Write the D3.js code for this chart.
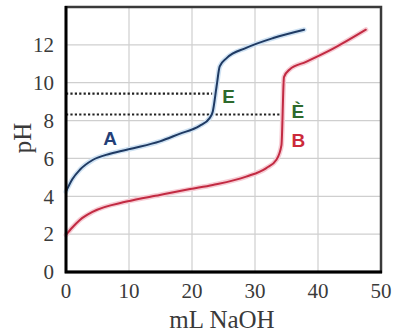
<!DOCTYPE html>
<html>
<head>
<meta charset="utf-8">
<script src="https://cdn.jsdelivr.net/npm/d3@7"></script>
<style>
  body { margin: 0; background: #fff; }
  svg { display: block; }
</style>
</head>
<body>
<div id="chart"></div>
<script>
// Titration data (mL NaOH, pH)
const volA = [0, 1, 2.2, 4.3, 7, 10.7, 14.9, 18, 21.2, 22.8, 23.3, 23.9, 24.4, 25.5, 28.6, 32.9, 37.8]
const phA = [4.25, 4.9, 5.4, 5.93, 6.25, 6.54, 6.9, 7.3, 7.72, 8.13, 8.48, 9.8, 10.86, 11.3, 11.84, 12.36, 12.8]

const volB = [0, 1, 2.2, 4.3, 9.6, 14.9, 19.7, 23.3, 28.6, 31.8, 33.4, 34.2, 34.6, 35.5, 38.1, 42.4, 47.6]
const phB = [1.96, 2.35, 2.75, 3.19, 3.72, 4.07, 4.38, 4.6, 5.04, 5.49, 5.93, 6.7, 10.3, 10.7, 11.1, 11.8, 12.8]

// dotted reference levels: [pH, mL where line stops]
const dottedPh = [9.42, 8.32]
const dottedEnd = [23.2, 34.3]

const xTicks = [0, 10, 20, 30, 40, 50]
const yTicks = [0, 2, 4, 6, 8, 10, 12]

const width = 393
const height = 334
const margin = { top: 7, right: 12, bottom: 62, left: 66 }

const svg = d3.select('#chart').append('svg')
  .attr('width', width)
  .attr('height', height)

const x = d3.scaleLinear().domain([0, 50]).range([margin.left, width - margin.right])
const y = d3.scaleLinear().domain([0, 14]).range([height - margin.bottom, margin.top])

// grid
const grid = svg.append('g').attr('stroke', '#cfcfcf').attr('stroke-width', 1.2)
grid.selectAll('line.gx')
  .data(xTicks.slice(1, -1))
  .join('line')
  .attr('x1', d => x(d)).attr('x2', d => x(d))
  .attr('y1', y(0)).attr('y2', y(14))
grid.selectAll('line.gy')
  .data(yTicks.slice(1))
  .join('line')
  .attr('x1', x(0)).attr('x2', x(50))
  .attr('y1', d => y(d)).attr('y2', d => y(d))

// dotted lines
svg.append('g').selectAll('line')
  .data(dottedPh)
  .join('line')
  .attr('x1', x(0))
  .attr('x2', (d, i) => x(dottedEnd[i]))
  .attr('y1', d => y(d)).attr('y2', d => y(d))
  .attr('stroke', '#222')
  .attr('stroke-width', 2.2)
  .attr('stroke-dasharray', '2.2,2.2')

// curves
const line = d3.line()
  .x(d => x(d[0]))
  .y(d => y(d[1]))
  .curve(d3.curveMonotoneX)

const curves = [
  { pts: volA.map((v, i) => [v, phA[i]]), color: '#1f3a63', halo: '#cfe2f3' },
  { pts: volB.map((v, i) => [v, phB[i]]), color: '#c22a42', halo: '#f6ccd4' }
]

curves.forEach(c => {
  svg.append('path')
    .attr('d', line(c.pts))
    .attr('fill', 'none')
    .attr('stroke', c.halo)
    .attr('stroke-width', 5)
    .attr('stroke-linecap', 'round')
  svg.append('path')
    .attr('d', line(c.pts))
    .attr('fill', 'none')
    .attr('stroke', c.color)
    .attr('stroke-width', 2)
    .attr('stroke-linecap', 'round')
})

// frame: top/right gray, left/bottom black
svg.append('rect')
  .attr('x', x(0)).attr('y', y(14))
  .attr('width', x(50) - x(0)).attr('height', y(0) - y(14))
  .attr('fill', 'none')
  .attr('stroke', '#3a3a3a')
  .attr('stroke-width', 2.5)
svg.append('path')
  .attr('d', `M${x(0)},${y(14) - 1}V${y(0)}H${x(50) + 1}`)
  .attr('fill', 'none')
  .attr('stroke', '#000')
  .attr('stroke-width', 2.8)

// tick labels
const font = '"Liberation Serif", "DejaVu Serif", serif'
svg.append('g').selectAll('text')
  .data(yTicks)
  .join('text')
  .attr('x', x(0) - 12)
  .attr('y', d => y(d))
  .attr('dy', '0.35em')
  .attr('text-anchor', 'end')
  .attr('font-family', font)
  .attr('font-size', 21)
  .attr('fill', '#3a3a3a')
  .text(d => d)

svg.append('g').selectAll('text')
  .data(xTicks)
  .join('text')
  .attr('x', d => x(d))
  .attr('y', y(0) + 26)
  .attr('text-anchor', 'middle')
  .attr('font-family', font)
  .attr('font-size', 21)
  .attr('fill', '#3a3a3a')
  .text(d => d)

// axis titles
svg.append('text')
  .attr('x', 222)
  .attr('y', 328)
  .attr('text-anchor', 'middle')
  .attr('font-family', font)
  .attr('font-size', 25)
  .attr('fill', '#3a3a3a')
  .text('mL NaOH')

svg.append('text')
  .attr('transform', 'translate(31,138) rotate(-90)')
  .attr('text-anchor', 'middle')
  .attr('font-family', font)
  .attr('font-size', 25)
  .attr('fill', '#3a3a3a')
  .text('pH')

// curve labels
const labels = [
  { t: 'A', v: 7, ph: 7.07, c: '#243f78' },
  { t: 'E', v: 25.8, ph: 9.27, c: '#2d6a2d' },
  { t: 'È', v: 36.8, ph: 8.52, c: '#2d6a2d' },
  { t: 'B', v: 36.9, ph: 6.98, c: '#cc2a3a' }
]
svg.append('g').selectAll('text')
  .data(labels)
  .join('text')
  .attr('x', d => x(d.v))
  .attr('y', d => y(d.ph))
  .attr('dy', '0.36em')
  .attr('text-anchor', 'middle')
  .attr('font-family', '"Liberation Sans", Arial, sans-serif')
  .attr('font-weight', 'bold')
  .attr('font-size', 19)
  .attr('fill', d => d.c)
  .text(d => d.t)
</script>
</body>
</html>
